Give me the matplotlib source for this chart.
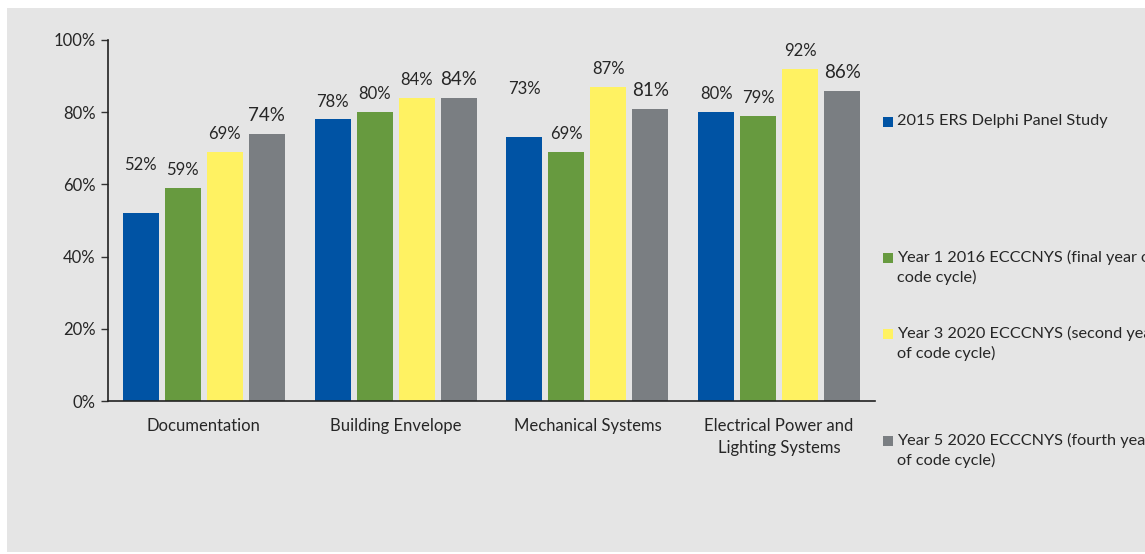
import matplotlib.pyplot as plt
import matplotlib.patches as mpatches
import numpy as np

plt.rcParams['font.family'] = ['Lato', 'DejaVu Sans']

categories = ['Documentation', 'Building Envelope', 'Mechanical Systems',
              'Electrical Power and\nLighting Systems']
series_names = ['2015 ERS Delphi Panel Study',
                'Year 1 2016 ECCCNYS (final year of\ncode cycle)',
                'Year 3 2020 ECCCNYS (second year\nof code cycle)',
                'Year 5 2020 ECCCNYS (fourth year\nof code cycle)']
delphi_2015 = [52, 78, 73, 80]
year1_2016 = [59, 80, 69, 79]
year3_2020 = [69, 84, 87, 92]
year5_2020 = [74, 84, 81, 86]
colours = ['#0053a4', '#679a3f', '#fff262', '#7a7e82']

# a couple of value labels sit higher above their bars (points)
label_lift = {(0, 0): 22, (0, 2): 22}

text_col = '#262626'
W, H = 1145, 554
fig = plt.figure(figsize=(W / 100, H / 100), dpi=100)
fig.patch.set_facecolor('white')
# grey panel behind everything
fig.patches.append(mpatches.Rectangle((7 / W, 2 / H), 1, (H - 10) / H,
                                      transform=fig.transFigure,
                                      facecolor='#e5e5e5', edgecolor='none', zorder=-10))

ax = fig.add_axes([108 / W, (H - 401) / H, (875 - 108) / W, 361 / H])
ax.set_facecolor('none')

x = np.arange(len(categories))
bar_w = 0.188
step = 0.219
all_series = [delphi_2015, year1_2016, year3_2020, year5_2020]
for i, vals in enumerate(all_series):
    pos = x + (i - 1.5) * step
    bars = ax.bar(pos, vals, width=bar_w, color=colours[i], zorder=2)
    size = 13.5 if i == 3 else 12
    for j, (b, v) in enumerate(zip(bars, vals)):
        ax.annotate(f'{v}%', (b.get_x() + b.get_width() / 2, v),
                    xytext=(0, 7 + label_lift.get((i, j), 0)), textcoords='offset points',
                    ha='center', va='bottom', fontsize=size, color=text_col)

ax.set_xlim(-0.5, len(categories) - 0.5)
ax.set_ylim(0, 100)
ax.set_yticks(range(0, 101, 20))
ax.set_yticklabels([f'{t}%' for t in range(0, 101, 20)], fontsize=12, color=text_col)
ax.set_xticks(x)
ax.set_xticklabels(categories, fontsize=12, color=text_col, linespacing=1.5)
ax.tick_params(axis='x', length=0, pad=12)
ax.tick_params(axis='y', length=5, width=1, color='#333333', pad=4, direction='out')
for s in ['top', 'right']:
    ax.spines[s].set_visible(False)
for s in ['left', 'bottom']:
    ax.spines[s].set_color('#222222')
    ax.spines[s].set_linewidth(1.2)

# legend drawn entry by entry down the right side
legend_tops = [115, 251, 327, 434]
for name, col, top in zip(series_names, colours, legend_tops):
    fig.patches.append(mpatches.Rectangle((883 / W, (H - top - 12) / H), 10 / W, 10 / H,
                                          transform=fig.transFigure,
                                          facecolor=col, edgecolor='none'))
    fig.text(897 / W, (H - top + 1) / H, name, fontsize=11.7, color=text_col,
             ha='left', va='top', linespacing=1.38)

fig.savefig('out.png', dpi=100)
